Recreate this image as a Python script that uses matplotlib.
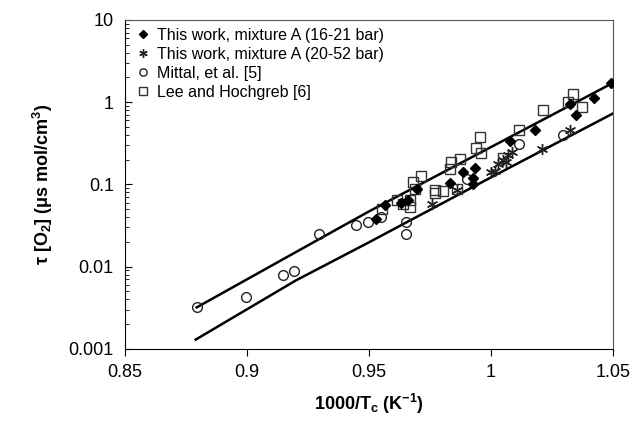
import numpy as np
import matplotlib
matplotlib.use("Agg")
import matplotlib.pyplot as plt
from matplotlib.ticker import LogLocator, NullFormatter

plt.rcParams['font.family'] = ['Liberation Sans', 'DejaVu Sans']
plt.rcParams['mathtext.fontset'] = 'custom'
plt.rcParams['mathtext.rm'] = 'Liberation Sans'
plt.rcParams['mathtext.bf'] = 'Liberation Sans:bold'
plt.rcParams['mathtext.it'] = 'Liberation Sans:italic'

# this work, 16-21 bar (filled diamonds)
x_a = [0.9529, 0.9566, 0.9630, 0.9660, 0.9696, 0.9830, 0.9887, 0.9934, 0.9928, 0.9928,
       1.0078, 1.0180, 1.0324, 1.0348, 1.0420, 1.0490]
y_a = [0.038, 0.056, 0.060, 0.065, 0.089, 0.105, 0.140, 0.160, 0.120, 0.101,
       0.335, 0.46, 0.95, 0.70, 1.12, 1.73]

# this work, 20-52 bar (asterisks)
x_b = [0.9757, 0.9859, 1.0000, 1.0016, 1.0030, 1.0050, 1.0060, 1.0070, 1.0085, 1.0208, 1.0324]
y_b = [0.058, 0.086, 0.140, 0.145, 0.175, 0.200, 0.190, 0.225, 0.250, 0.270, 0.46]

# Mittal et al. (open circles)
x_c = [0.8795, 0.8995, 0.9146, 0.9194, 0.9296, 0.9445, 0.9497, 0.9550, 0.9650, 0.9650,
       0.9900, 1.0116, 1.0296]
y_c = [0.0032, 0.0043, 0.0079, 0.0089, 0.025, 0.032, 0.035, 0.040, 0.035, 0.025,
       0.117, 0.31, 0.40]

# Lee and Hochgreb (open squares)
x_d = [0.9552, 0.9614, 0.9640, 0.9668, 0.9668, 0.9680, 0.9690, 0.9713, 0.9770, 0.9770,
       0.9804, 0.9860, 0.9830, 0.9836, 0.9873, 0.9940, 0.9955, 0.9960, 1.0050, 1.0116,
       1.0214, 1.0317, 1.0335, 1.0372]
y_d = [0.050, 0.065, 0.058, 0.064, 0.053, 0.107, 0.089, 0.126, 0.085, 0.078,
       0.083, 0.089, 0.155, 0.19, 0.205, 0.28, 0.38, 0.24, 0.21, 0.46,
       0.80, 1.00, 1.25, 0.88]

# fitted curves
fit_x = [0.8794, 0.93, 0.95, 1.0, 1.05]
fit_upper = [0.0032, 0.022, 0.047, 0.285, 1.72]
fit_lower_x = [0.879, 0.92, 0.95, 1.0, 1.05]
fit_lower = [0.0013, 0.0068, 0.0198, 0.122, 0.73]

fig = plt.figure(figsize=(6.44, 4.24), dpi=100)
ax = fig.add_axes([0.194, 0.177, 0.758, 0.776])

ax.plot(fit_x, fit_upper, color='black', lw=1.8, zorder=2)
ax.plot(fit_lower_x, fit_lower, color='black', lw=1.8, zorder=2)

ax.plot(x_a, y_a, ls='none', marker='D', ms=5.5, color='black',
        label='This work, mixture A (16-21 bar)', zorder=4)
ax.plot(x_b, y_b, ls='none', marker=(6, 2, 0), ms=8, color='#222222', mew=1.0,
        label='This work, mixture A (20-52 bar)', zorder=4)
ax.plot(x_c, y_c, ls='none', marker='o', ms=7, mfc='none', mec='#222222', mew=1.0,
        label='Mittal, et al. [5]', zorder=3)
ax.plot(x_d, y_d, ls='none', marker='s', ms=7.5, mfc='none', mec='#333333', mew=1.0,
        label='Lee and Hochgreb [6]', zorder=3)

ax.set_yscale('log')
ax.set_xlim(0.85, 1.05)
ax.set_ylim(0.001, 10)
ax.set_xticks([0.85, 0.9, 0.95, 1.0, 1.05])
ax.set_xticklabels(['0.85', '0.9', '0.95', '1', '1.05'])
ax.set_yticks([0.001, 0.01, 0.1, 1, 10])
ax.set_yticklabels(['0.001', '0.01', '0.1', '1', '10'])
ax.yaxis.set_minor_locator(LogLocator(base=10, subs=np.arange(2, 10)))
ax.yaxis.set_minor_formatter(NullFormatter())

ax.tick_params(axis='x', direction='out', length=5, labelsize=13, pad=6)
ax.tick_params(axis='y', which='major', direction='in', length=5, labelsize=13, pad=8)
ax.tick_params(axis='y', which='minor', direction='in', length=3)

for side in ['top', 'right']:
    ax.spines[side].set_color('#555555')

ax.set_xlabel(r'1000/T$_\mathbf{c}$ (K$^\mathbf{-1}$)', fontsize=13, fontweight='bold', labelpad=8)
ax.set_ylabel(r'τ [O$_\mathbf{2}$] (μs mol/cm$^\mathbf{3}$)', fontsize=13, fontweight='bold', labelpad=10)

ax.legend(loc='upper left', frameon=False, fontsize=11.5, handletextpad=0.3,
          borderaxespad=0.3, labelspacing=0.25, handlelength=1.2,
          borderpad=0.2, markerscale=0.75)

fig.savefig('out.png', dpi=100)
